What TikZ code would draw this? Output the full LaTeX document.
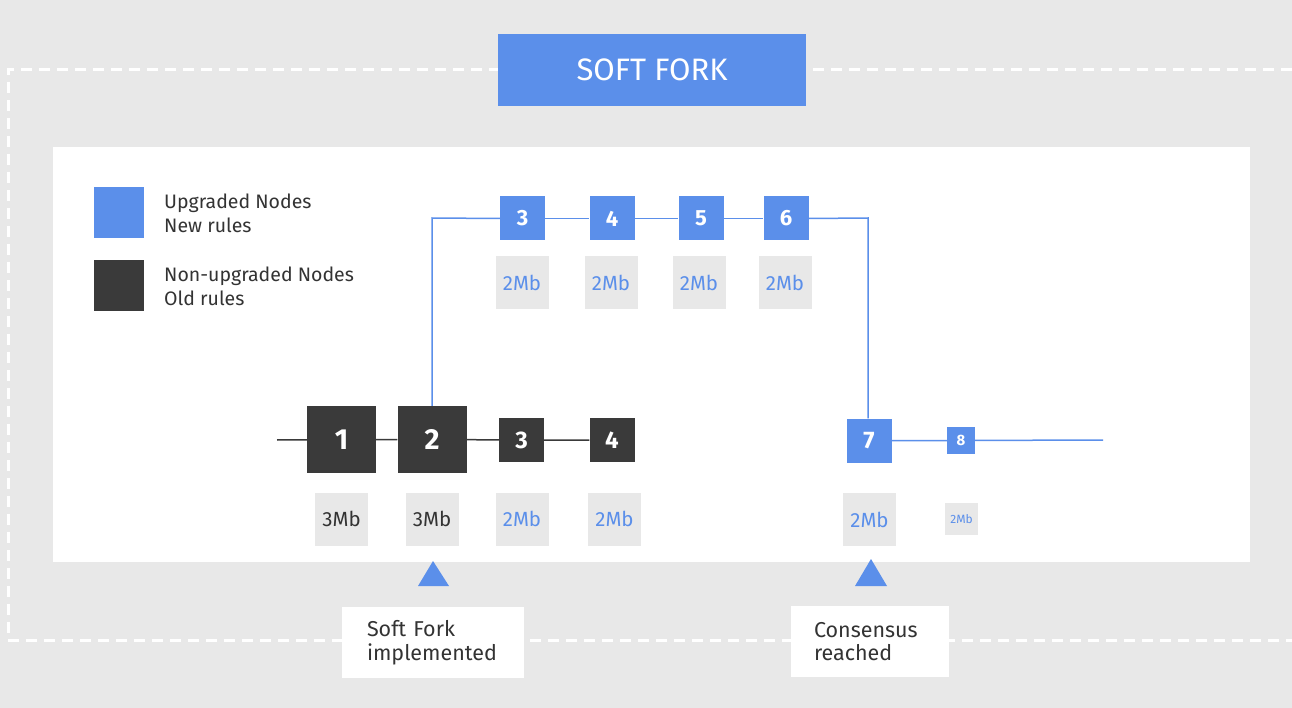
\documentclass[tikz,border=0pt]{standalone}
\usepackage{fontspec}
\setmainfont{Fira Sans}
\definecolor{bgray}{HTML}{E8E8E8}
\definecolor{ublue}{HTML}{5B8FEA}
\definecolor{dgray}{HTML}{3A3A3A}
\definecolor{tgray}{HTML}{333333}
\tikzset{
  blk/.style={fill=#1, text=white, inner sep=0pt, font=\bfseries},
  bigblk/.style={blk=dgray, minimum width=69pt, minimum height=67pt, font=\bfseries\fontsize{29}{29}\selectfont},
  oldblk/.style={blk=dgray, minimum width=45pt, minimum height=44pt, font=\bfseries\fontsize{24}{24}\selectfont},
  newblk/.style={blk=ublue, minimum width=45pt, minimum height=44pt, font=\bfseries\fontsize{22}{22}\selectfont},
  sizebox/.style={fill=bgray, minimum width=53pt, minimum height=53pt, inner sep=0pt, text=#1, font=\fontsize{20.5}{20.5}\selectfont},
  oldline/.style={draw=dgray, line width=1.5pt},
  newline/.style={draw=ublue, line width=1.5pt},
  callout/.style={fill=white, inner ysep=0pt, align=left, text=tgray, font=\fontsize{21.5}{23.5}\selectfont},
  legtext/.style={anchor=west, align=left, text=tgray, inner sep=0pt, font=\fontsize{19.5}{24}\selectfont},
  mark tri/.style={fill=ublue}
}
\begin{document}
\begin{tikzpicture}[x=1pt,y=-1pt]
\useasboundingbox (0,0) rectangle (1292,708);
\fill[bgray] (0,0) rectangle (1292,708);
\begin{scope}
\clip (0,0) rectangle (1292,708);
\draw[white, line width=3pt, dash pattern=on 11pt off 7pt] (1310,70) -- (8,70) -- (8,640) -- (1310,640);
\end{scope}
% title
\node[fill=ublue, minimum width=308pt, minimum height=72pt, text=white, font=\fontsize{31}{31}\selectfont] (title) at (652,70) {SOFT FORK};
% white panel
\fill[white] (53,147) rectangle (1250,562);
% legend
\node[fill=ublue, minimum width=50pt, minimum height=51pt, inner sep=0pt] (legnew) at (119,212.5) {};
\node[fill=dgray, minimum width=50pt, minimum height=51pt, inner sep=0pt] (legold) at (119,285.5) {};
\node[legtext] (legnewt) at (164,213) {Upgraded Nodes\\New rules};
\node[legtext] (legoldt) at (164,286) {Non-upgraded Nodes\\Old rules};
% old chain
\coordinate (start) at (277,440);
\node[bigblk] (b1) at (341.5,439.5) {1};
\node[bigblk] (b2) at (432,439.5) {2};
\node[oldblk] (b3) at (521.5,440) {3};
\node[oldblk] (b4) at (612,440) {4};
\node[sizebox=tgray] (s1) at (341.5,519) {3Mb};
\node[sizebox=tgray] (s2) at (432,519) {3Mb};
\node[sizebox=ublue] (s3) at (522,519) {2Mb};
\node[sizebox=ublue] (s4) at (614.5,519) {2Mb};
\draw[oldline] (start) -- (b1) (b1) -- (b2) (b2) -- (b3) (b3) -- (b4);
% new chain
\node[newblk] (t3) at (522.5,218.5) {3};
\node[newblk] (t4) at (612,218.5) {4};
\node[newblk] (t5) at (701,218.5) {5};
\node[newblk] (t6) at (786,218.5) {6};
\node[sizebox=ublue] (u3) at (522,282.5) {2Mb};
\node[sizebox=ublue] (u4) at (611,282.5) {2Mb};
\node[sizebox=ublue] (u5) at (699,282.5) {2Mb};
\node[sizebox=ublue] (u6) at (785,282.5) {2Mb};
\node[newblk, font=\bfseries\fontsize{24}{24}\selectfont] (b7) at (869,440.5) {7};
\node[blk=ublue, minimum width=28pt, minimum height=27pt, font=\bfseries\fontsize{15}{15}\selectfont] (b8) at (961,440.5) {8};
\node[sizebox=ublue] (s7) at (869.5,519.5) {2Mb};
\node[fill=bgray, minimum width=33pt, minimum height=32pt, inner sep=0pt, text=ublue, font=\fontsize{12}{12}\selectfont] (s8) at (961.5,519) {2Mb};
\coordinate (end) at (1103,440);
\draw[newline] (b2.north) -- (432,218) -- (t3.west);
\draw[newline] (t3) -- (t4) (t4) -- (t5) (t5) -- (t6);
\draw[newline] (t6.east) -- (868,218) -- (b7.north -| 868,0);
\draw[newline] (b7) -- (b8) (b8) -- (end);
% markers
\fill[mark tri] (433,561) -- (449,586) -- (418,586) -- cycle;
\fill[mark tri] (871,559) -- (887,586) -- (855,586) -- cycle;
\node[callout, inner xsep=25pt, text width=132pt, minimum height=71pt] (lab1) at (433,642.5) {Soft Fork\\implemented};
\node[callout, inner xsep=23pt, text width=112pt, minimum height=71pt] (lab2) at (870,641.5) {Consensus\\reached};
\end{tikzpicture}
\end{document}
